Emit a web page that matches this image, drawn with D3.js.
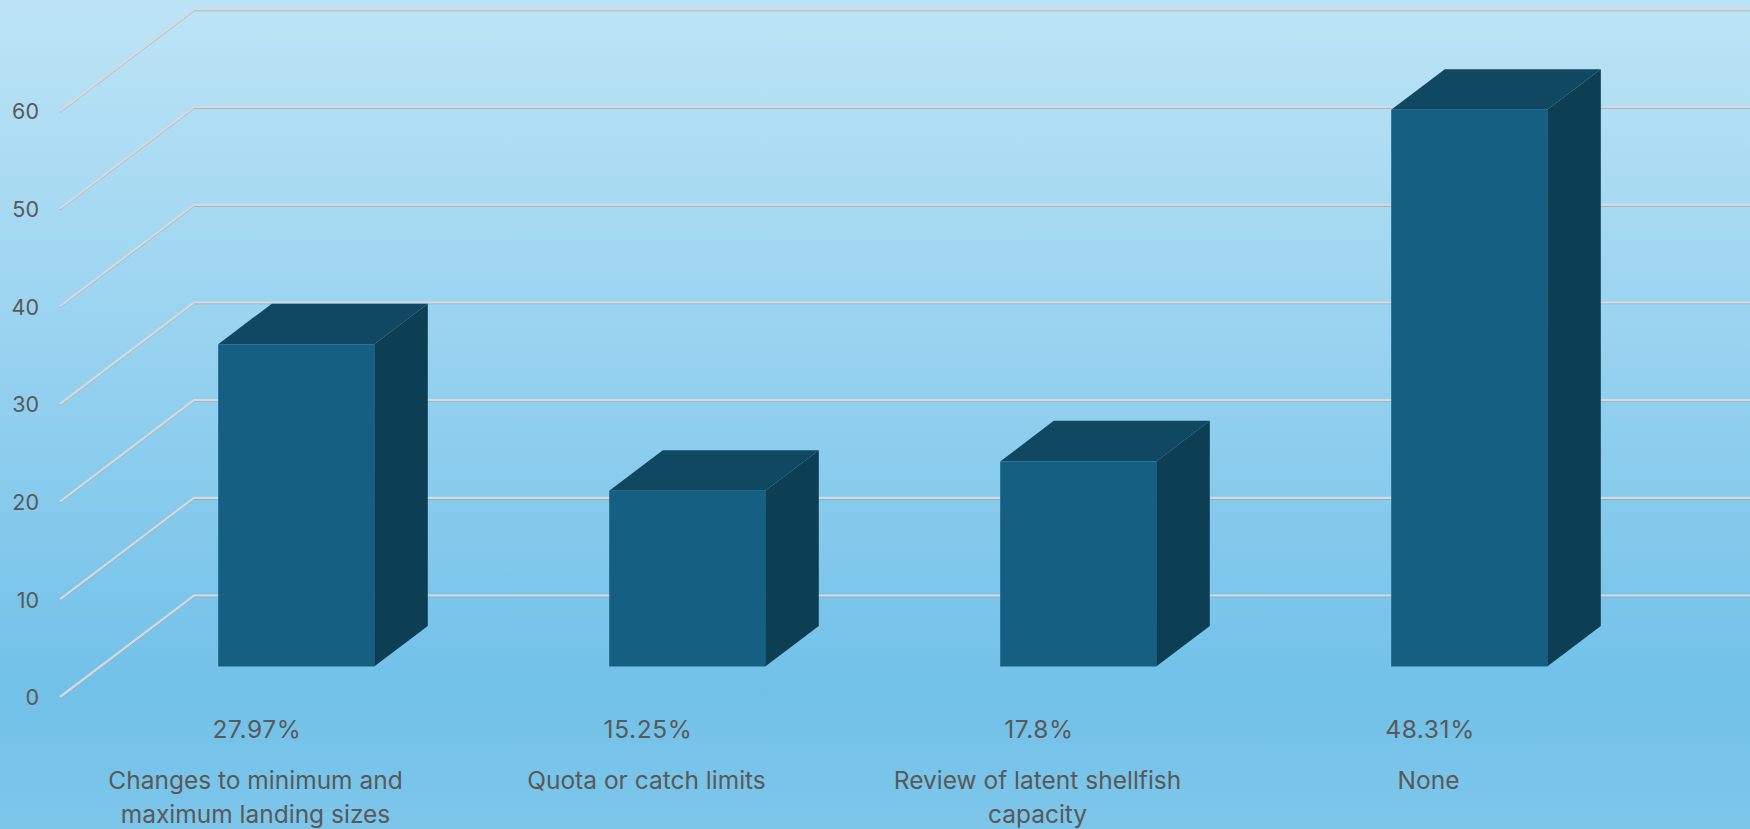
<!DOCTYPE html>
<html>
<head lang="en">
    <meta charset="UTF-8">
    <title>Measures bar chart</title>
    <script src="https://cdn.jsdelivr.net/npm/d3@7/dist/d3.min.js"></script>
    <style>
        html, body { margin: 0; padding: 0; background: #7cc5ea; overflow: hidden; }
        svg { display: block; }
        text { font-family: Inter, "Noto Sans", sans-serif; fill: #595959; font-size: 24.5px; }
        .tick text { font-size: 21.5px; }
        .pct { letter-spacing: 0.6px; }
    </style>
</head>
<body>
<svg width="1750" height="829"></svg>

<script>
    var categories = [
        ["Changes to minimum and", "maximum landing sizes"],
        ["Quota or catch limits"],
        ["Review of latent shellfish", "capacity"],
        ["None"]
    ];
    var counts = [33, 18, 21, 57];
    var percentLabels = ["27.97%", "15.25%", "17.8%", "48.31%"];
    var yTicks = [0, 10, 20, 30, 40, 50, 60];

    var svg = d3.select("svg");

    var x = d3.scaleBand().domain(d3.range(categories.length)).range([60, 1624]);
    var y = d3.scaleLinear().domain([0, 60]).range([697, 111]);

    // oblique projection, depth goes from 0 (front of the floor) to 1 (back wall)
    var depthX = 134, depthY = 101.5;
    function project(px, py, depth) {
        return [px + depth * depthX, py - depth * depthY];
    }

    // background
    var bg = svg.append("defs").append("linearGradient")
            .attr("id", "bg").attr("x1", 0).attr("y1", 0).attr("x2", 0).attr("y2", 1);
    bg.append("stop").attr("offset", 0).attr("stop-color", "#bde4f6");
    bg.append("stop").attr("offset", 0.83).attr("stop-color", "#72c1e9");
    bg.append("stop").attr("offset", 1).attr("stop-color", "#7dc6ea");
    svg.append("rect").attr("width", 1750).attr("height", 829).attr("fill", "url(#bg)");

    // grid, floor edge goes up to the back wall and then across
    var line = d3.line();
    function gridPath(d) {
        return line([project(60, y(d), 0), project(60, y(d), 1), [1750, y(d) - depthY]]);
    }
    var grid = svg.append("g").attr("fill", "none");
    grid.selectAll("path.edge")
            .data(yTicks)
            .enter().append("path")
            .attr("class", "edge")
            .attr("d", gridPath)
            .attr("transform", "translate(0,1.2)")
            .attr("stroke", "#8d9ca6")
            .attr("stroke-width", 1.2)
            .attr("opacity", 0.7);
    grid.selectAll("path.main")
            .data(yTicks)
            .enter().append("path")
            .attr("class", "main")
            .attr("d", gridPath)
            .attr("stroke", "#d6d9dc")
            .attr("stroke-width", 2.2);

    // bars
    var barWidth = 156;
    var nearDepth = 0.3, farDepth = 0.7;
    var bars = svg.selectAll("g.bar")
            .data(counts)
            .enter().append("g")
            .attr("class", "bar");

    function barLeft(i) {
        return x(i) + x.bandwidth() / 2 - barWidth / 2 + 0.5;
    }
    bars.append("path")
            .attr("fill", "#0c3f54")
            .attr("d", function (d, i) {
                var r = barLeft(i) + barWidth;
                return line([project(r, y(0), nearDepth), project(r, y(0), farDepth),
                    project(r, y(d), farDepth), project(r, y(d), nearDepth)]) + "Z";
            });
    bars.append("path")
            .attr("fill", "#104862")
            .attr("d", function (d, i) {
                var l = barLeft(i), r = l + barWidth;
                return line([project(l, y(d), nearDepth), project(l, y(d), farDepth),
                    project(r, y(d), farDepth), project(r, y(d), nearDepth)]) + "Z";
            });
    bars.append("path")
            .attr("fill", "#156082")
            .attr("d", function (d, i) {
                var l = barLeft(i), r = l + barWidth;
                return line([project(l, y(0), nearDepth), project(r, y(0), nearDepth),
                    project(r, y(d), nearDepth), project(l, y(d), nearDepth)]) + "Z";
            });

    // y axis
    var yAxis = d3.axisLeft(y).tickValues(yTicks).tickSize(0).tickPadding(0);
    svg.append("g")
            .attr("transform", "translate(39,1)")
            .call(yAxis)
            .call(function (g) { g.select(".domain").remove(); })
            .selectAll("text")
            .attr("font-size", null);

    // percent labels and category names under the bars
    svg.selectAll("text.pct")
            .data(percentLabels)
            .enter().append("text")
            .attr("class", "pct")
            .attr("text-anchor", "middle")
            .attr("x", function (d, i) { return x(i) + x.bandwidth() / 2 + 1.5; })
            .attr("y", 738)
            .text(function (d) { return d; });

    var names = svg.selectAll("text.cat")
            .data(categories)
            .enter().append("text")
            .attr("class", "cat")
            .attr("text-anchor", "middle")
            .attr("y", 789);
    names.selectAll("tspan")
            .data(function (d, i) {
                return d.map(function (s) { return {s: s, i: i}; });
            })
            .enter().append("tspan")
            .attr("x", function (d) { return x(d.i) + x.bandwidth() / 2; })
            .attr("dy", function (d, j) { return j ? 34 : 0; })
            .text(function (d) { return d.s; });
</script>
</body>
</html>
